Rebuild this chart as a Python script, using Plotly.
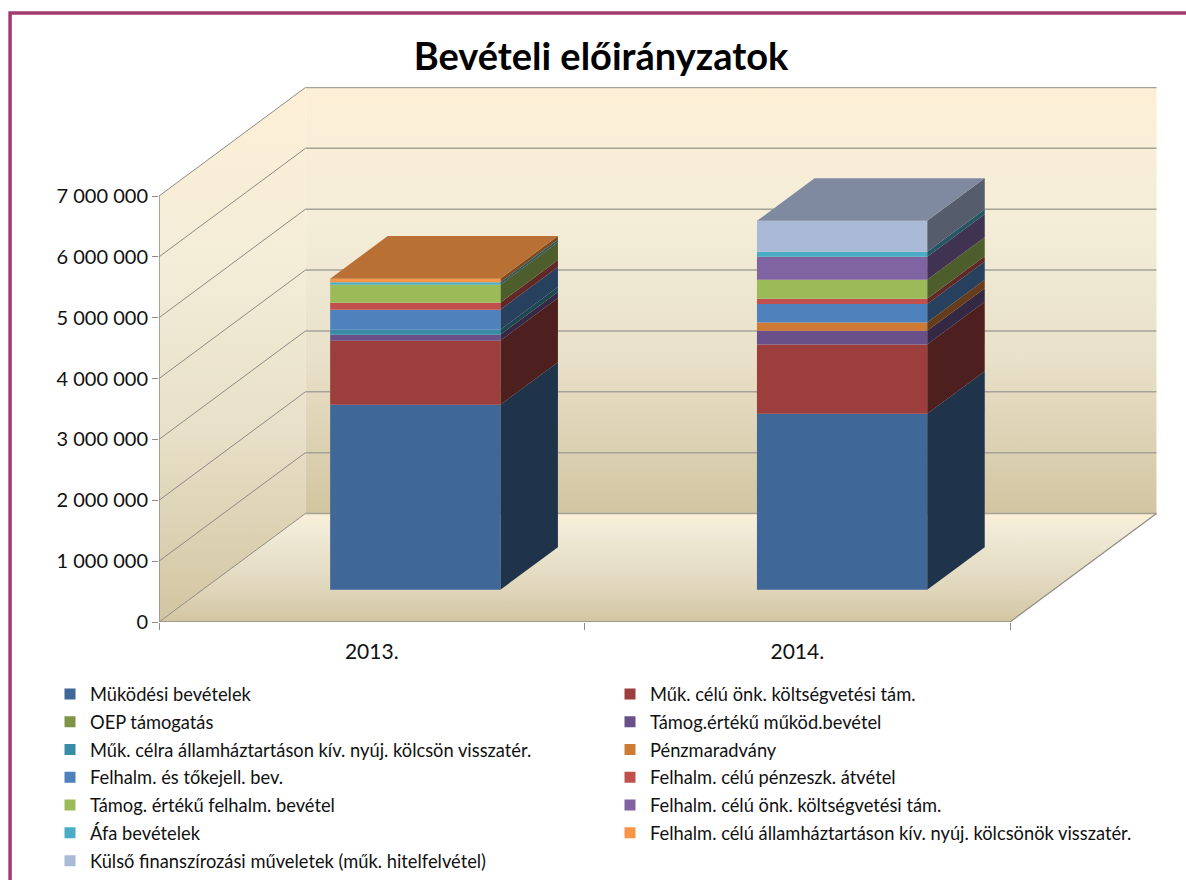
import plotly.graph_objects as go

TITLE = "Bevételi előirányzatok"
YEARS = ["2013.", "2014."]
SERIES = [
    "Müködési bevételek",
    "Műk. célú önk. költségvetési tám.",
    "OEP támogatás",
    "Támog.értékű működ.bevétel",
    "Műk. célra államháztartáson kív. nyúj. kölcsön visszatér.",
    "Pénzmaradvány",
    "Felhalm. és tőkejell. bev.",
    "Felhalm. célú pénzeszk. átvétel",
    "Támog. értékű felhalm. bevétel",
    "Felhalm. célú önk. költségvetési tám.",
    "Áfa bevételek",
    "Felhalm. célú államháztartáson kív. nyúj. kölcsönök visszatér.",
    "Külső finanszírozási műveletek (műk. hitelfelvétel)",
]
VALUES_2013 = [3040000, 1052000, 0, 99000, 82000, 0, 329000, 115000, 295000, 0, 40000, 60000, 0]
VALUES_2014 = [2892000, 1139000, 0, 225000, 0, 136000, 302000, 87000, 312000, 378000, 82000, 0, 509000]
COLORS = ["#3F6797", "#9B3E3D", "#7F9447", "#6A5088", "#3A8CA6", "#CC7A34", "#4F81BD",
          "#C0504D", "#9BBB59", "#8064A2", "#4BACC6", "#F79646", "#AAB9D6"]
Y_TICKS = [0, 1000000, 2000000, 3000000, 4000000, 5000000, 6000000, 7000000]
Y_LABELS = ["0", "1 000 000", "2 000 000", "3 000 000", "4 000 000", "5 000 000", "6 000 000", "7 000 000"]

FONT = "Lato"
GRID = "#8E8B84"
GRID_BACK = "#A5A298"
# oblique projection of the depth axis, in data units
PX_PER_CAT = 425.75
PX_PER_VAL = 60.857 / 1e6
DX = 146.5 / PX_PER_CAT
DY = 108.5 / PX_PER_VAL
BAR_POS = [0.5, 1.503]
BAR_W = 0.4
D_NEAR, D_FAR = 0.297, 0.69
VMAX = 7000000
WALL = [[0, "#D2C5A1"], [0.36, "#E8E0C8"], [0.69, "#F4EDD8"], [1, "#FDEFD6"]]
FLOOR = [[0, "#D2C5A1"], [0.3, "#DFD6BB"], [0.88, "#F2ECD9"], [1, "#FCEFD6"]]


def shade(hex_color, k):
    r, g, b = (int(hex_color[i:i + 2], 16) for i in (1, 3, 5))
    return f"rgb({int(r * k)},{int(g * k)},{int(b * k)})"


def proj(x, v, d):
    return x + d * DX, v + d * DY


fig = go.Figure()


def poly(points, color=None, gradient=None):
    xs = [p[0] for p in points] + [points[0][0]]
    ys = [p[1] for p in points] + [points[0][1]]
    kw = dict(fillgradient=dict(type="vertical", colorscale=gradient)) if gradient else dict(fillcolor=color)
    fig.add_trace(go.Scatter(x=xs, y=ys, mode="lines", fill="toself", line=dict(width=0),
                             hoverinfo="skip", showlegend=False, **kw))


def line(points, width=1, color=GRID):
    fig.add_trace(go.Scatter(x=[p[0] for p in points], y=[p[1] for p in points], mode="lines",
                             line=dict(color=color, width=width), hoverinfo="skip",
                             showlegend=False))


# walls and floor
poly([proj(0, 0, 0), proj(0, 0, 1), proj(0, VMAX, 1), proj(0, VMAX, 0)], gradient=WALL)
poly([proj(0, 0, 1), proj(2, 0, 1), proj(2, VMAX, 1), proj(0, VMAX, 1)], gradient=WALL)
poly([proj(0, 0, 0), proj(2, 0, 0), proj(2, 0, 1), proj(0, 0, 1)], gradient=FLOOR)
for t in Y_TICKS:
    line([proj(0, t, 0), proj(0, t, 1)], 1)
    line([proj(0, t, 1), proj(2, t, 1)], 1.5, GRID_BACK)
line([proj(2, 0, 0), proj(2, 0, 1)], 1.2)
line([proj(0, 0, 0), proj(0, VMAX, 0)], 1.5)
line([proj(0, 0, 0), proj(2, 0, 0)], 1.5)

# stacked bars
for pos, values in zip(BAR_POS, [VALUES_2013, VALUES_2014]):
    x0, x1 = pos - BAR_W / 2, pos + BAR_W / 2
    base = 0
    top_color = COLORS[0]
    for val, col in zip(values, COLORS):
        if not val:
            continue
        top = base + val
        poly([proj(x1, base, D_NEAR), proj(x1, base, D_FAR), proj(x1, top, D_FAR), proj(x1, top, D_NEAR)],
             color=shade(col, 0.5))
        poly([proj(x0, base, D_NEAR), proj(x1, base, D_NEAR), proj(x1, top, D_NEAR), proj(x0, top, D_NEAR)],
             color=col)
        base = top
        top_color = col
    poly([proj(x0, base, D_NEAR), proj(x1, base, D_NEAR), proj(x1, base, D_FAR), proj(x0, base, D_FAR)],
         color=shade(top_color, 0.75))

# legend entries, two columns
for i, (name, col) in enumerate(zip(SERIES, COLORS)):
    fig.add_trace(go.Scatter(x=[None], y=[None], mode="markers", name=name, legendgroup=name,
                             legend="legend" if i % 2 == 0 else "legend2",
                             marker=dict(symbol="square", size=11, color=col)))

W, H = 1186, 880
legend_common = dict(xref="container", yref="container", yanchor="top", xanchor="left",
                     traceorder="grouped", tracegroupgap=1, indentation=-8, itemwidth=30,
                     bgcolor="rgba(0,0,0,0)", font=dict(family=FONT, size=18.3, color="#111111"))
L, R, T, B = 158.5, 29, 87, 258
plot_w, plot_h = W - L - R, H - T - B
fig.update_layout(
    width=W, height=H, autosize=False,
    margin=dict(l=L, r=R, t=T, b=B, autoexpand=False),
    paper_bgcolor="white", plot_bgcolor="white",
    title=dict(text=f"<b>{TITLE}</b>", x=601 / W, y=1 - 57 / H, xanchor="center", yanchor="middle",
               xref="container", yref="container",
               font=dict(family=FONT, size=38, color="black")),
    font=dict(family=FONT, color="#111111"),
    showlegend=True,
    legend=dict(x=58 / W, y=1 - 675.5 / H, **legend_common),
    legend2=dict(x=618 / W, y=1 - 675.5 / H, **legend_common),
    xaxis=dict(range=[0, plot_w / PX_PER_CAT], showgrid=False, zeroline=False, showline=False,
               tickmode="array", tickvals=[0.5, 1.5], ticktext=YEARS, ticks="outside", ticklen=11,
               tickcolor="rgba(0,0,0,0)", tickfont=dict(family=FONT, size=21, color="#111111"),
               minor=dict(tickmode="array", tickvals=[0, 1, 2], ticks="outside", ticklen=7,
                          tickcolor=GRID, showgrid=False)),
    yaxis=dict(range=[0, plot_h / PX_PER_VAL], showgrid=False, zeroline=False, showline=False,
               tickmode="array", tickvals=Y_TICKS, ticktext=Y_LABELS, ticks="outside", ticklen=6,
               tickcolor=GRID, tickfont=dict(family=FONT, size=20, color="#111111")),
    shapes=[dict(type="rect", xref="paper", yref="paper",
                 x0=(9.5 - L) / plot_w, x1=(1230 - L) / plot_w,
                 y0=1 - (930 - T) / plot_h, y1=1 - (13 - T) / plot_h,
                 line=dict(color="#A33A6E", width=3.5), fillcolor="rgba(0,0,0,0)", layer="below")],
)
fig.write_html("out.html", config=dict(displayModeBar=False),
               post_script="document.body.style.margin='0';document.documentElement.style.overflow='hidden';")
